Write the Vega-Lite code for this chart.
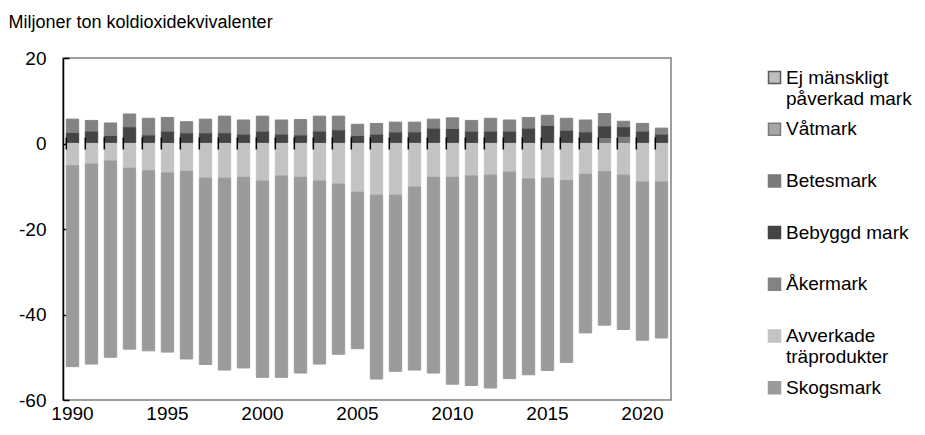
{
  "$schema": "https://vega.github.io/schema/vega-lite/v6.json",
  "autosize": "none",
  "width": 608,
  "height": 342,
  "padding": {"left": 63, "top": 58, "right": 254, "bottom": 35},
  "config": {
    "font": "Liberation Sans",
    "view": {"stroke": "#808080", "strokeWidth": 1.5}
  },
  "data": {
    "values": [
      {"year": 1990, "Skogsmark": -47.0, "Avverkade träprodukter": -5.2, "Åkermark": 3.1, "Bebyggd mark": 2.3, "Betesmark": 0.3},
      {"year": 1991, "Skogsmark": -46.8, "Avverkade träprodukter": -4.8, "Åkermark": 2.5, "Bebyggd mark": 2.6, "Betesmark": 0.3},
      {"year": 1992, "Skogsmark": -45.9, "Avverkade träprodukter": -4.1, "Åkermark": 2.9, "Bebyggd mark": 1.6, "Betesmark": 0.3},
      {"year": 1993, "Skogsmark": -42.3, "Avverkade träprodukter": -5.8, "Åkermark": 3.0, "Bebyggd mark": 3.6, "Betesmark": 0.3},
      {"year": 1994, "Skogsmark": -42.1, "Avverkade träprodukter": -6.4, "Åkermark": 3.9, "Bebyggd mark": 1.7, "Betesmark": 0.3},
      {"year": 1995, "Skogsmark": -41.9, "Avverkade träprodukter": -6.9, "Åkermark": 3.2, "Bebyggd mark": 2.6, "Betesmark": 0.3},
      {"year": 1996, "Skogsmark": -43.9, "Avverkade träprodukter": -6.5, "Åkermark": 2.6, "Bebyggd mark": 2.2, "Betesmark": 0.3},
      {"year": 1997, "Skogsmark": -43.6, "Avverkade träprodukter": -8.1, "Åkermark": 3.2, "Bebyggd mark": 2.2, "Betesmark": 0.3},
      {"year": 1998, "Skogsmark": -44.9, "Avverkade träprodukter": -8.1, "Åkermark": 3.9, "Bebyggd mark": 2.2, "Betesmark": 0.3},
      {"year": 1999, "Skogsmark": -44.6, "Avverkade träprodukter": -7.9, "Åkermark": 3.3, "Bebyggd mark": 1.9, "Betesmark": 0.3},
      {"year": 2000, "Skogsmark": -45.9, "Avverkade träprodukter": -8.8, "Åkermark": 3.5, "Bebyggd mark": 2.6, "Betesmark": 0.3},
      {"year": 2001, "Skogsmark": -47.1, "Avverkade träprodukter": -7.6, "Åkermark": 3.3, "Bebyggd mark": 1.9, "Betesmark": 0.3},
      {"year": 2002, "Skogsmark": -45.8, "Avverkade träprodukter": -7.9, "Åkermark": 3.6, "Bebyggd mark": 1.7, "Betesmark": 0.3},
      {"year": 2003, "Skogsmark": -42.8, "Avverkade träprodukter": -8.8, "Åkermark": 3.5, "Bebyggd mark": 2.6, "Betesmark": 0.3},
      {"year": 2004, "Skogsmark": -39.8, "Avverkade träprodukter": -9.5, "Åkermark": 3.2, "Bebyggd mark": 2.9, "Betesmark": 0.3},
      {"year": 2005, "Skogsmark": -36.6, "Avverkade träprodukter": -11.4, "Åkermark": 2.6, "Bebyggd mark": 1.6, "Betesmark": 0.3},
      {"year": 2006, "Skogsmark": -43.0, "Avverkade träprodukter": -12.1, "Åkermark": 2.5, "Bebyggd mark": 1.9, "Betesmark": 0.3},
      {"year": 2007, "Skogsmark": -41.2, "Avverkade träprodukter": -12.1, "Åkermark": 2.3, "Bebyggd mark": 2.4, "Betesmark": 0.3},
      {"year": 2008, "Skogsmark": -42.8, "Avverkade träprodukter": -10.2, "Åkermark": 2.3, "Bebyggd mark": 2.4, "Betesmark": 0.3},
      {"year": 2009, "Skogsmark": -45.8, "Avverkade träprodukter": -7.9, "Åkermark": 2.1, "Bebyggd mark": 3.3, "Betesmark": 0.3},
      {"year": 2010, "Skogsmark": -48.4, "Avverkade träprodukter": -7.9, "Åkermark": 2.5, "Bebyggd mark": 3.2, "Betesmark": 0.3},
      {"year": 2011, "Skogsmark": -49.0, "Avverkade träprodukter": -7.6, "Åkermark": 2.5, "Bebyggd mark": 2.6, "Betesmark": 0.3},
      {"year": 2012, "Skogsmark": -49.8, "Avverkade träprodukter": -7.4, "Åkermark": 3.0, "Bebyggd mark": 2.6, "Betesmark": 0.3},
      {"year": 2013, "Skogsmark": -48.3, "Avverkade träprodukter": -6.7, "Åkermark": 2.6, "Bebyggd mark": 2.6, "Betesmark": 0.3},
      {"year": 2014, "Skogsmark": -45.8, "Avverkade träprodukter": -8.3, "Åkermark": 2.5, "Bebyggd mark": 3.3, "Betesmark": 0.3},
      {"year": 2015, "Skogsmark": -45.0, "Avverkade träprodukter": -8.1, "Åkermark": 2.4, "Bebyggd mark": 3.9, "Betesmark": 0.3},
      {"year": 2016, "Skogsmark": -42.5, "Avverkade träprodukter": -8.7, "Åkermark": 2.8, "Bebyggd mark": 2.8, "Betesmark": 0.3},
      {"year": 2017, "Skogsmark": -37.1, "Avverkade träprodukter": -7.2, "Åkermark": 2.8, "Bebyggd mark": 2.4, "Betesmark": 0.3},
      {"year": 2018, "Skogsmark": -35.9, "Avverkade träprodukter": -6.6, "Åkermark": 2.9, "Bebyggd mark": 2.7, "Betesmark": 1.4},
      {"year": 2019, "Skogsmark": -36.1, "Avverkade träprodukter": -7.4, "Åkermark": 1.3, "Bebyggd mark": 2.2, "Betesmark": 1.7},
      {"year": 2020, "Skogsmark": -37.0, "Avverkade träprodukter": -9.0, "Åkermark": 1.8, "Bebyggd mark": 2.6, "Betesmark": 0.3},
      {"year": 2021, "Skogsmark": -36.5, "Avverkade träprodukter": -9.0, "Åkermark": 1.4, "Bebyggd mark": 1.9, "Betesmark": 0.3}
    ]
  },
  "encoding": {
    "x": {
      "field": "year",
      "type": "ordinal",
      "scale": {"paddingInner": 0.35, "paddingOuter": 0.175},
      "axis": {
        "title": null,
        "domain": false,
        "ticks": false,
        "labelAngle": 0,
        "labelFontSize": 19,
        "labelColor": "#000000",
        "labelPadding": 4,
        "labelExpr": "datum.value % 5 == 0 ? datum.label : ''"
      }
    }
  },
  "layer": [
    {
      "transform": [
        {"fold": ["Betesmark", "Bebyggd mark", "Åkermark", "Avverkade träprodukter", "Skogsmark"], "as": ["kategori", "varde"]},
        {"window": [{"op": "row_number", "as": "stackordning"}], "groupby": ["year"]}
      ],
      "mark": {"type": "bar", "strokeWidth": 1},
      "encoding": {
        "y": {
          "field": "varde",
          "type": "quantitative",
          "stack": "zero",
          "scale": {"domain": [-60, 20], "nice": false, "zero": false},
          "axis": {
            "values": [-60, -40, -20, 0, 20],
            "grid": false,
            "domainColor": "#000000",
            "domainWidth": 1.5,
            "tickColor": "#000000",
            "tickSize": -6,
            "tickWidth": 1.5,
            "labelFontSize": 19,
            "labelColor": "#000000",
            "labelPadding": 23,
            "labelExpr": "'' + datum.value",
            "title": "Miljoner ton koldioxidekvivalenter",
            "titleAngle": 0,
            "titleAlign": "left",
            "titleBaseline": "middle",
            "titleX": -55,
            "titleY": -36,
            "titleFontSize": 18,
            "titleFontWeight": "normal",
            "titleColor": "#000000"
          }
        },
        "order": {"field": "stackordning", "type": "quantitative", "sort": "ascending"},
        "color": {
          "field": "kategori",
          "type": "nominal",
          "scale": {
            "domain": ["Ej mänskligt påverkad mark", "Våtmark", "Betesmark", "Bebyggd mark", "Åkermark", "Avverkade träprodukter", "Skogsmark"],
            "range": ["#bfbfbf", "#a6a6a6", "#7a7a7a", "#444444", "#838383", "#c3c3c3", "#9b9b9b"]
          },
          "legend": {
            "title": null,
            "orient": "none",
            "legendX": 702,
            "legendY": 10,
            "symbolType": "square",
            "symbolSize": 144,
            "symbolStrokeWidth": 1.5,
            "labelFontSize": 19,
            "labelColor": "#000000",
            "labelLimit": 0,
            "labelOffset": 2,
            "rowPadding": 10.7,
            "gridAlign": "all",
            "padding": 0,
            "labelExpr": "datum.label == 'Ej mänskligt påverkad mark' ? ['Ej mänskligt', 'påverkad mark'] : datum.label == 'Avverkade träprodukter' ? ['Avverkade', 'träprodukter'] : datum.label"
          }
        },
        "stroke": {
          "field": "kategori",
          "type": "nominal",
          "scale": {
            "domain": ["Ej mänskligt påverkad mark", "Våtmark", "Betesmark", "Bebyggd mark", "Åkermark", "Avverkade träprodukter", "Skogsmark"],
            "range": ["#595959", "#7a7a7a", "#7a7a7a", "#444444", "#838383", "#c3c3c3", "#9b9b9b"]
          },
          "legend": null
        }
      }
    },
    {
      "mark": {"type": "rule", "color": "#000000", "strokeWidth": 2},
      "encoding": {"y": {"datum": 0}}
    },
    {
      "mark": {"type": "rule", "color": "#000000", "strokeWidth": 1.5},
      "encoding": {
        "x": {"field": "year", "type": "ordinal", "bandPosition": 0},
        "y": {"datum": 1.4},
        "y2": {"datum": -1.4}
      }
    }
  ]
}
